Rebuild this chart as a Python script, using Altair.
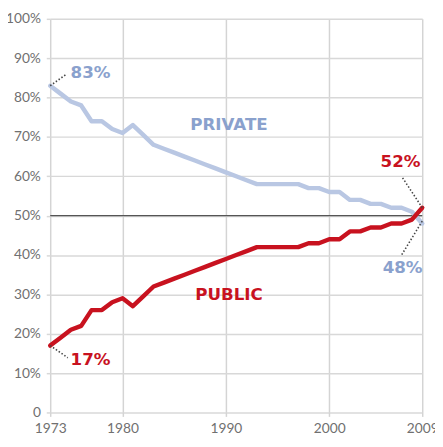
import altair as alt
import pandas as pd

years = list(range(1973, 2010))
private = [83, 81, 79, 78, 74, 74, 72, 71, 73, 70.5, 68, 67, 66, 65, 64, 63, 62, 61, 60, 59,
           58, 58, 58, 58, 58, 57, 57, 56, 56, 54, 54, 53, 53, 52, 52, 51, 48]
public = [17, 19, 21, 22, 26, 26, 28, 29, 27, 29.5, 32, 33, 34, 35, 36, 37, 38, 39, 40, 41,
          42, 42, 42, 42, 42, 43, 43, 44, 44, 46, 46, 47, 47, 48, 48, 49, 52]

x_ticks = [1973, 1980, 1990, 2000, 2009]
y_ticks = [0, 10, 20, 30, 40, 50, 60, 70, 80, 90, 100]

label_text = ["83%", "PRIVATE", "PUBLIC", "17%", "52%", "48%"]
label_x = [1976.9, 1990.3, 1990.3, 1976.9, 2006.9, 2007.1]
label_y = [86.3, 72.9, 29.9, 13.4, 63.7, 36.8]
label_series = ["private", "private", "public", "public", "public", "private"]

leader_x = [1973, 1973, 2009, 2009]
leader_y = [83, 17, 52, 48.6]
leader_x2 = [1974.6, 1974.7, 2007.0, 2007.0]
leader_y2 = [86, 13.9, 60, 40.0]

PRIV_LINE = "#b9c7e3"
PRIV_TEXT = "#8aa1cd"
PUB = "#c8121f"

lines_df = pd.DataFrame({
    "year": years * 2,
    "value": private + public,
    "series": ["private"] * len(years) + ["public"] * len(years),
})
labels_df = pd.DataFrame({"x": label_x, "y": label_y, "text": label_text, "series": label_series})
leaders_df = pd.DataFrame({"x": leader_x, "y": leader_y, "x2": leader_x2, "y2": leader_y2})
half_df = pd.DataFrame({"y": [50]})

xscale = alt.Scale(domain=[1973, 2009], nice=False, zero=False)
yscale = alt.Scale(domain=[0, 100], nice=False)

base_x = alt.X("year:Q", scale=xscale, title=None,
               axis=alt.Axis(values=x_ticks, format="d", grid=True, domain=False,
                             tickSize=4, tickColor="#d4d4d4", tickWidth=1.5,
                             gridColor="#d4d4d4", gridWidth=1.5,
                             labelFont="Lato", labelFontSize=14, labelColor="#707070",
                             labelPadding=5, labelFlush=False))
base_y = alt.Y("value:Q", scale=yscale, title=None,
               axis=alt.Axis(values=y_ticks, grid=True, domain=False,
                             tickSize=4, tickColor="#d8d8d8", tickWidth=1.5,
                             gridColor="#d8d8d8", gridWidth=1.5,
                             labelExpr="datum.value == 0 ? '0' : datum.value + '%'",
                             labelFont="Lato", labelFontSize=14, labelColor="#707070",
                             labelPadding=6))

lines = alt.Chart(lines_df).mark_line(strokeWidth=4.5, strokeJoin="round", strokeCap="round").encode(
    x=base_x,
    y=base_y,
    color=alt.Color("series:N", scale=alt.Scale(domain=["private", "public"], range=[PRIV_LINE, PUB]), legend=None),
)

half = alt.Chart(half_df).mark_rule(color="#555555", strokeWidth=1.3).encode(
    y=alt.Y("y:Q", scale=yscale),
)

leaders = alt.Chart(leaders_df).mark_rule(color="#444444", strokeWidth=1.6, strokeDash=[1.5, 2]).encode(
    x=alt.X("x:Q", scale=xscale), y=alt.Y("y:Q", scale=yscale),
    x2="x2:Q", y2="y2:Q",
)

labels = alt.Chart(labels_df).mark_text(font="DejaVu Sans", fontWeight="bold", fontSize=17,
                                        align="center", baseline="middle").encode(
    x=alt.X("x:Q", scale=xscale), y=alt.Y("y:Q", scale=yscale), text="text:N",
    color=alt.Color("series:N", scale=alt.Scale(domain=["private", "public"], range=[PRIV_TEXT, PUB]), legend=None),
)

chart = alt.layer(half, lines, leaders, labels).resolve_scale(color="independent").properties(
    width=379, height=401,
    autosize=alt.AutoSizeParams(type="none"),
    padding={"left": 43, "top": 7, "right": 13, "bottom": 23},
).configure_view(stroke=None)

chart.save("out.html", embed_options={"renderer": "svg", "actions": False})
